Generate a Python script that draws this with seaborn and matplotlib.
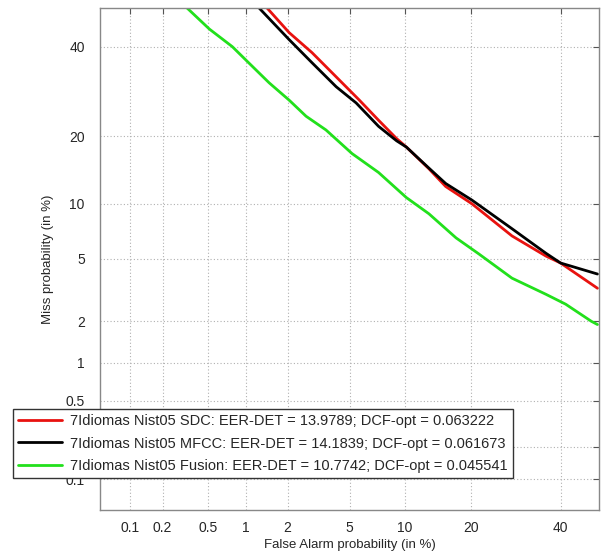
import numpy as np
import pandas as pd
import matplotlib
matplotlib.use("Agg")
import matplotlib.pyplot as plt
import seaborn as sns
from statistics import NormalDist

# ---- data (percentages) ----
series_names = [
    "7Idiomas Nist05 SDC: EER-DET = 13.9789; DCF-opt = 0.063222",
    "7Idiomas Nist05 MFCC: EER-DET = 14.1839; DCF-opt = 0.061673",
    "7Idiomas Nist05 Fusion: EER-DET = 10.7742; DCF-opt = 0.045541",
]
sdc_fa = [1.43, 2.05, 2.92, 4.15, 5.7, 7.3, 9.1, 10.2, 13.1, 15.6, 20.1, 28.3, 36.3, 40.0, 49.6]
sdc_miss = [50, 43.6, 38.5, 32.6, 27.3, 23.1, 19.6, 18.1, 14.6, 12.1, 9.97, 6.76, 5.2, 4.73, 3.31]

mfcc_fa = [1.25, 2.05, 2.92, 4.15, 5.46, 7.3, 9.1, 10.2, 13.1, 15.6, 20.1, 28.3, 36.3, 40.0, 49.6]
mfcc_miss = [50, 41.8, 36.0, 30.3, 26.7, 21.9, 19.2, 18.1, 14.7, 12.5, 10.4, 7.4, 5.4, 4.73, 4.06]

fusion_fa = [0.33, 0.51, 0.78, 1.02, 1.48, 2.05, 2.67, 3.59, 5.17, 7.3, 10.2, 13.1, 17.3, 21.4,
             28.3, 36.3, 41.3, 48.0, 49.6]
fusion_miss = [50, 44.5, 40.0, 36.3, 31.2, 27.3, 23.9, 21.2, 17.0, 14.05, 10.7, 8.87, 6.59, 5.35,
               3.83, 3.03, 2.61, 2.0, 1.90]

tick_values = [0.1, 0.2, 0.5, 1, 2, 5, 10, 20, 40]
x_tick_labels = ["0.1", "0.2", "0.5", "1", "2", "5", "10", "20", "40"]
y_tick_labels = ["0.1", "", "0.5", "1", "2", "5", "10", "20", "40"]  # 0.2 hidden by legend
colors = ["#e8120f", "#000000", "#22e01c"]

frames = []
for name, fa, miss in zip(series_names, [sdc_fa, mfcc_fa, fusion_fa],
                          [sdc_miss, mfcc_miss, fusion_miss]):
    frames.append(pd.DataFrame({"fa": fa, "miss": miss, "system": name}))
df = pd.concat(frames, ignore_index=True)

# ---- probit (normal deviate) scale ----
_nd = NormalDist()
_ppf = np.vectorize(_nd.inv_cdf, otypes=[float])
_cdf = np.vectorize(_nd.cdf, otypes=[float])


def fwd(p):
    p = np.clip(np.asarray(p, dtype=float) / 100.0, 1e-9, 1 - 1e-9)
    return _ppf(p)


def inv(z):
    return 100.0 * _cdf(np.asarray(z, dtype=float))


sns.set_style("white")
plt.rcParams["font.family"] = ["Liberation Sans", "DejaVu Sans"]

fig = plt.figure(figsize=(6.02, 5.53), dpi=100)
ax = fig.add_axes([100 / 602, 1 - 510 / 553, 499 / 602, 502 / 553])

sns.lineplot(data=df, x="fa", y="miss", hue="system", palette=colors, sort=False,
             estimator=None, linewidth=2.0, ax=ax)

ax.set_xscale("function", functions=(fwd, inv))
ax.set_yscale("function", functions=(fwd, inv))
ax.set_xlim(0.05, 50)
ax.set_ylim(0.05, 50)
ax.set_xticks(tick_values)
ax.set_xticklabels(x_tick_labels)
ax.set_yticks(tick_values)
ax.set_yticklabels(y_tick_labels)
ax.minorticks_off()
ax.tick_params(axis="both", direction="in", length=4, width=0.8, color="#555555",
               labelsize=10, top=True, right=True)
ax.tick_params(axis="x", pad=8)
ax.tick_params(axis="y", pad=11)
ax.grid(True, linestyle=(0, (1, 2)), color="#b0b0b0", linewidth=0.8)
for s in ax.spines.values():
    s.set_color("#888888")
    s.set_linewidth(1.0)

ax.set_xlabel("False Alarm probability (in %)", fontsize=9.5, labelpad=3)
ax.set_ylabel("Miss probability (in %)", fontsize=9.5, labelpad=8)

handles, labels = ax.get_legend_handles_labels()
leg = ax.legend(handles, labels, loc="upper left",
                bbox_to_anchor=(13 / 602, 1 - 409 / 553), bbox_transform=fig.transFigure,
                fontsize=10.5, frameon=True, fancybox=False, borderpad=0.35,
                handlelength=3.0, handletextpad=0.55, labelspacing=0.58, borderaxespad=0)
leg.set_zorder(10)
leg.get_frame().set_edgecolor("#333333")
leg.get_frame().set_linewidth(1.0)
leg.get_frame().set_alpha(1.0)
for line in leg.get_lines():
    line.set_linewidth(2.0)

fig.savefig("out.png", dpi=100)
